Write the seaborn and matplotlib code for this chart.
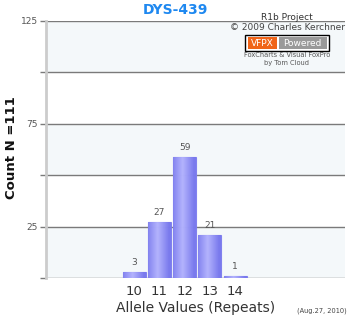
import numpy as np
import pandas as pd
import matplotlib
matplotlib.use("Agg")
import matplotlib.pyplot as plt
from matplotlib.patches import Rectangle
import seaborn as sns

# ---- data ----
alleles = [10, 11, 12, 13, 14]
counts = [3, 27, 59, 21, 1]
ytick_values = [0, 25, 50, 75, 100, 125]
ytick_labels = ["", "25", "", "75", "", "125"]
title = "DYS-439"
ylabel = "Count N =111"
xlabel = "Allele Values (Repeats)"

df = pd.DataFrame({"allele": alleles, "count": counts})

sns.set_theme(style="white")
plt.rcParams["font.family"] = ["DejaVu Sans"]

fig = plt.figure(figsize=(3.5, 3.2), dpi=100)
ax = fig.add_axes([46 / 350, 42 / 320, 299 / 350, 257 / 320])

# background bands
for lo in (0, 50, 100):
    ax.axhspan(lo, lo + 25, color="#f4f8fa", zorder=0, lw=0)

sns.barplot(data=df, x="allele", y="count", native_scale=True, width=0.91,
            color="#8c8cf2", edgecolor="#7a7aee", linewidth=0.8,
            saturation=1, ax=ax, zorder=3, alpha=0.9)

# gradient fill on each bar
grad = np.linspace(0, 1, 64)
shade = 1 - np.abs(grad - 0.42) * 2.0
shade = np.clip(shade, 0, 1)
c_edge = np.array([0.47, 0.47, 0.93])
c_mid = np.array([0.72, 0.72, 1.0])
img = (c_edge[None, :] * (1 - shade[:, None]) + c_mid[None, :] * shade[:, None])[None, :, :]
for p in ax.patches:
    x0, y0 = p.get_x(), p.get_y()
    w, h = p.get_width(), p.get_height()
    im = ax.imshow(img, extent=[x0, x0 + w, y0, y0 + h], aspect="auto",
                   zorder=3.5, alpha=0.9, interpolation="bilinear")
    im.set_clip_path(p)

ax.set_xlim(6.51, 18.35)
ax.set_ylim(0, 125)
ax.set_aspect("auto")

# gridlines
for v in ytick_values:
    ax.axhline(v, color="#7a7a7a", lw=1, zorder=2)

ax.set_yticks(ytick_values)
ax.set_yticklabels(ytick_labels)
ax.tick_params(axis="y", length=4, width=1, color="#7a7a7a", labelsize=6.5,
               labelcolor="#555555", left=True, pad=2)
ax.set_xticks(alleles)
ax.set_xticklabels([str(a) for a in alleles])
ax.tick_params(axis="x", length=0, labelsize=9.5, labelcolor="#333333", pad=5)

for s in ("top", "right", "bottom"):
    ax.spines[s].set_visible(False)
ax.spines["left"].set_color("#cccccc")
ax.spines["left"].set_linewidth(2)

# value labels
for a, c in zip(alleles, counts):
    ax.text(a, c + 2.5, str(c), ha="center", va="bottom", fontsize=6.5,
            color="#555555", zorder=5)

ax.set_xlabel(xlabel, fontsize=10, color="#333333", labelpad=2)
ax.set_ylabel("")
fig.text(12 / 350, 1 - 148 / 320, ylabel, rotation=90, ha="center",
         va="center", fontsize=9.5, fontweight="bold", color="#111111")

fig.text(175 / 350, 1 - 10 / 320, title, ha="center", va="center",
         fontsize=10, fontweight="bold", color="#1e88f0")

# credits
fig.text(287 / 350, 1 - 17 / 320, "R1b Project", ha="center", va="center",
         fontsize=6.5, color="#333333")
fig.text(345 / 350, 1 - 28 / 320, "\u00a9 2009 Charles Kerchner", ha="right",
         va="center", fontsize=6.5, color="#444444")
fig.add_artist(Rectangle((245 / 350, 1 - 51 / 320), 84 / 350, 16 / 320,
                         transform=fig.transFigure, facecolor="white",
                         edgecolor="black", lw=1, zorder=5))
fig.add_artist(Rectangle((247.5 / 350, 1 - 48.5 / 320), 29.5 / 350, 11 / 320,
                         transform=fig.transFigure, facecolor="#f06418",
                         edgecolor="none", zorder=6))
fig.add_artist(Rectangle((278.5 / 350, 1 - 48.5 / 320), 48 / 350, 11 / 320,
                         transform=fig.transFigure, facecolor="#999999",
                         edgecolor="none", zorder=6))
fig.text(262 / 350, 1 - 43 / 320, "VFPX", ha="center", va="center",
         fontsize=6.5, color="white", zorder=7)
fig.text(302.5 / 350, 1 - 43 / 320, "Powered", ha="center", va="center",
         fontsize=6.5, color="white", zorder=7)
fig.text(287 / 350, 1 - 55 / 320, "FoxCharts & Visual FoxPro", ha="center",
         va="center", fontsize=4.8, color="#555555")
fig.text(287 / 350, 1 - 63.5 / 320, "by Tom Cloud", ha="center",
         va="center", fontsize=4.8, color="#555555")
fig.text(347 / 350, 1 - 311 / 320, "(Aug.27, 2010)", ha="right",
         va="center", fontsize=4.8, color="#444444")

fig.savefig("out.png", dpi=100)
